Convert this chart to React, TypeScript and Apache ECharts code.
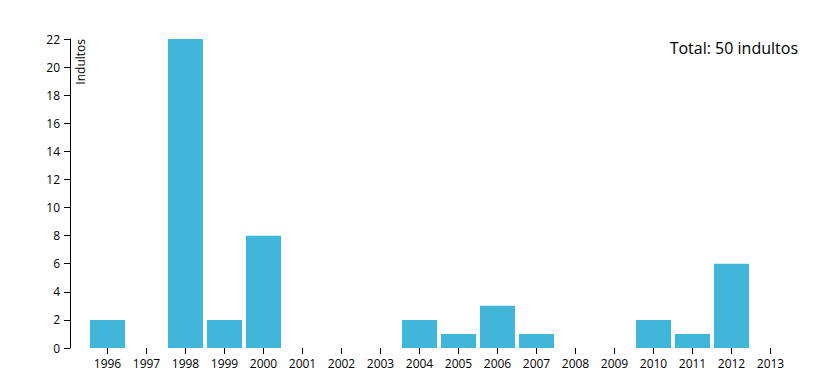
import React, { useEffect, useRef } from "react";
import * as echarts from "echarts";

const years = ["1996","1997","1998","1999","2000","2001","2002","2003","2004","2005","2006","2007","2008","2009","2010","2011","2012","2013"];
const indultos = [2,0,22,2,8,0,0,0,2,1,3,1,0,0,2,1,6,0];
const yTicks = [0,2,4,6,8,10,12,14,16,18,20,22];
const totalLabel = "Total: 50 indultos";
const yName = "Indultos";

const FONT = "'Open Sans', 'Noto Sans', sans-serif";

export default function App() {
  const ref = useRef<HTMLDivElement>(null);
  useEffect(() => {
    document.body.style.margin = "0";
    const chart = echarts.init(ref.current!, null, { renderer: "svg" });
    chart.setOption({
      animation: false,
      grid: { left: 88, right: 44, top: 39, bottom: 34, containLabel: false },
      xAxis: {
        type: "category",
        data: years,
        axisLine: { show: true, lineStyle: { color: "rgba(0,0,0,0)" } },
        axisTick: { show: true, alignWithLabel: true, length: 6, lineStyle: { color: "#000" } },
        axisLabel: { color: "#000", fontSize: 12, fontFamily: FONT, margin: 9, interval: 0 },
        splitLine: { show: false },
      },
      yAxis: {
        type: "value",
        min: yTicks[0],
        max: yTicks[yTicks.length - 1],
        interval: 2,
        offset: 18,
        axisLine: { show: true, lineStyle: { color: "#000", width: 1 } },
        axisTick: { show: true, length: 6, lineStyle: { color: "#000" } },
        axisLabel: { color: "#000", fontSize: 12, fontFamily: FONT, margin: 10 },
        splitLine: { show: false },
      },
      series: [
        {
          type: "bar",
          data: indultos,
          barCategoryGap: "10%",
          itemStyle: { color: "#41b6d9" },
        },
      ],
      graphic: [
        {
          type: "text",
          x: 80,
          y: 39,
          rotation: Math.PI / 2,
          style: { text: yName, fontSize: 12, fontFamily: FONT, fill: "#000", align: "right", verticalAlign: "middle" },
        },
        {
          type: "text",
          right: 36,
          top: 40,
          style: { text: totalLabel, fontSize: 16, fontFamily: FONT, fill: "#000" },
        },
      ],
    });
    return () => chart.dispose();
  }, []);
  return <div ref={ref} style={{ position: "absolute", left: 0, top: 0, width: 834, height: 382 }} />;
}
